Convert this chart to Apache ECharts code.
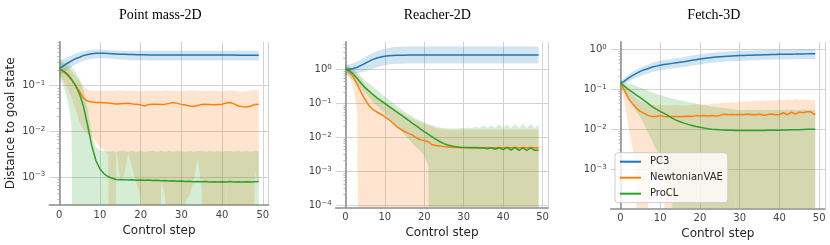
<!DOCTYPE html>
<html><head><meta charset="utf-8">
<script src="https://cdn.jsdelivr.net/npm/echarts@6/dist/echarts.min.js"></script>
<style>html,body{margin:0;padding:0;background:#fff}#c{width:830px;height:245px}</style>
</head><body><div id="c"></div>
<script>
// ---------- data ----------
const steps = [0,1,2,3,4,5,6,7,8,9,10,11,12,13,14,15,16,17,18,19,20,21,22,23,24,25,26,27,28,29,30,31,32,33,34,35,36,37,38,39,40,41,42,43,44,45,46,47,48,49];
const seriesNames = ['PC3','NewtonianVAE','ProCL'];
const panelTitles = ['Point mass-2D','Reacher-2D','Fetch-3D'];

// Point mass-2D
const pmPC3Mean = [0.24,0.27,0.31,0.35,0.39,0.42,0.46,0.48,0.50,0.51,0.51,0.51,0.505,0.50,0.495,0.49,0.485,0.48,0.48,0.475,0.475,0.475,0.47,0.47,0.47,0.47,0.47,0.47,0.47,0.47,0.47,0.47,0.468,0.468,0.468,0.468,0.468,0.468,0.468,0.468,0.467,0.467,0.467,0.467,0.466,0.466,0.466,0.466,0.465,0.465];
const pmPC3Upper = [0.36,0.38,0.42,0.46,0.5,0.54,0.57,0.6,0.61,0.62,0.62,0.61,0.6,0.595,0.59,0.585,0.58,0.58,0.58,0.58,0.58,0.58,0.58,0.58,0.58,0.58,0.58,0.58,0.58,0.58,0.58,0.58,0.58,0.58,0.58,0.58,0.58,0.58,0.58,0.58,0.58,0.58,0.58,0.58,0.58,0.58,0.58,0.58,0.58,0.58];
const pmPC3Lower = [0.16,0.19,0.22,0.26,0.29,0.32,0.35,0.37,0.39,0.40,0.40,0.40,0.395,0.39,0.38,0.375,0.37,0.365,0.36,0.36,0.36,0.36,0.355,0.355,0.355,0.355,0.355,0.355,0.355,0.355,0.355,0.355,0.355,0.355,0.355,0.355,0.355,0.355,0.355,0.355,0.355,0.355,0.355,0.355,0.355,0.355,0.355,0.355,0.355,0.355];
const pmNewtMean = [0.24,0.2,0.17,0.135,0.103,0.074,0.053,0.046,0.044,0.043,0.043,0.0425,0.042,0.041,0.040,0.0405,0.041,0.0415,0.040,0.0395,0.038,0.036,0.039,0.0395,0.0395,0.039,0.0395,0.041,0.043,0.041,0.039,0.038,0.036,0.035,0.037,0.039,0.0395,0.039,0.0385,0.039,0.0395,0.042,0.043,0.040,0.036,0.0345,0.034,0.0355,0.039,0.0395];
const pmNewtUpper = [0.34,0.3,0.26,0.21,0.165,0.125,0.095,0.082,0.078,0.078,0.077,0.079,0.078,0.077,0.079,0.08,0.078,0.077,0.079,0.078,0.076,0.077,0.079,0.078,0.077,0.078,0.08,0.079,0.078,0.077,0.076,0.078,0.079,0.08,0.078,0.077,0.076,0.078,0.079,0.077,0.076,0.078,0.08,0.078,0.075,0.074,0.076,0.079,0.082,0.08];
const pmNewtLower = [0.17,0.13,0.09,0.055,0.03,0.016,0.011,0.009,0.0075,0.006,0.0045,0.0038,0.0032,0,0.0042,0.0008,0.0012,0.0033,0.0015,0.0007,0.0004,0,0,0,0,0.0009,0.0004,0,0,0,0,0.0003,0.0004,0.0008,0.0026,0.0005,0,0,0,0,0,0.0017,0,0,0,0,0,0,0.0015,0.0006];
const pmProMean = [0.24,0.21,0.18,0.14,0.1,0.065,0.034,0.013,0.0048,0.0023,0.0015,0.00118,0.00103,0.00094,0.00089,0.00087,0.00088,0.00086,0.00087,0.00085,0.00086,0.00085,0.00086,0.00084,0.00085,0.00083,0.00084,0.00082,0.00083,0.00081,0.00082,0.0008,0.00081,0.00079,0.0008,0.00079,0.0008,0.00078,0.00079,0.00078,0.00079,0.00078,0.0008,0.00078,0.00079,0.00078,0.00079,0.00078,0.00079,0.0008];
const pmProUpper = [0.35,0.33,0.3,0.26,0.2,0.14,0.08,0.03,0.008,0.0045,0.0038,0.0037,0.0036,0.0037,0.0036,0.0037,0.0037,0.0036,0.0037,0.0036,0.0037,0.0036,0.0037,0.0037,0.0036,0.0037,0.0036,0.0037,0.0036,0.0037,0.0037,0.0036,0.0037,0.0036,0.0037,0.0037,0.0036,0.0037,0.0036,0.0037,0.0036,0.0037,0.0037,0.0036,0.0037,0.0036,0.0037,0.0036,0.0037,0.0037];
const pmProLower = [0.16,0.1,0.05,0.015,0,0,0,0,0,0,0,0,0,0,0,0,0,0,0,0,0,0,0,0,0,0,0,0,0,0,0,0,0,0,0,0,0,0,0,0,0,0,0,0,0,0,0,0,0,0];

// Reacher-2D
const rcPC3Mean = [1.0,1.0,1.05,1.15,1.3,1.5,1.7,1.95,2.15,2.3,2.42,2.5,2.55,2.58,2.6,2.6,2.61,2.61,2.61,2.61,2.61,2.61,2.61,2.61,2.61,2.61,2.61,2.61,2.61,2.61,2.62,2.62,2.62,2.62,2.62,2.62,2.62,2.62,2.62,2.62,2.62,2.62,2.62,2.62,2.62,2.62,2.62,2.62,2.62,2.62];
const rcPC3Upper = [1.35,1.4,1.5,1.7,1.95,2.3,2.65,3.0,3.4,3.7,4.0,4.2,4.4,4.5,4.6,4.65,4.7,4.7,4.7,4.7,4.7,4.7,4.7,4.7,4.7,4.7,4.7,4.7,4.7,4.7,4.7,4.7,4.7,4.7,4.7,4.7,4.7,4.7,4.7,4.7,4.7,4.7,4.7,4.7,4.7,4.7,4.7,4.7,4.7,4.7];
const rcPC3Lower = [0.72,0.72,0.74,0.78,0.82,0.88,0.95,1.05,1.15,1.25,1.32,1.38,1.42,1.45,1.46,1.47,1.47,1.47,1.47,1.47,1.47,1.47,1.47,1.47,1.47,1.47,1.47,1.47,1.47,1.47,1.47,1.47,1.47,1.47,1.47,1.47,1.47,1.47,1.47,1.47,1.47,1.47,1.47,1.47,1.47,1.47,1.47,1.47,1.47,1.47];
const rcNewtMean = [1.0,0.85,0.6,0.36,0.21,0.13,0.085,0.066,0.056,0.048,0.041,0.034,0.027,0.021,0.0175,0.015,0.0132,0.0117,0.0098,0.0086,0.0081,0.0075,0.0061,0.0058,0.0056,0.0054,0.0053,0.0052,0.0051,0.0051,0.0050,0.0050,0.0051,0.0050,0.0051,0.0050,0.0051,0.0050,0.0050,0.0051,0.0050,0.0051,0.0050,0.0051,0.0050,0.0051,0.0050,0.0051,0.0050,0.0050];
const rcNewtUpper = [1.3,1.15,0.95,0.7,0.5,0.35,0.25,0.2,0.16,0.13,0.11,0.095,0.08,0.066,0.055,0.047,0.04,0.035,0.031,0.028,0.025,0.023,0.021,0.019,0.018,0.017,0.017,0.017,0.017,0.017,0.017,0.017,0.017,0.017,0.017,0.017,0.017,0.017,0.017,0.017,0.017,0.017,0.017,0.017,0.017,0.017,0.017,0.017,0.017,0.017];
const rcNewtLower = [0.75,0.6,0.3,0.06,0,0,0,0,0,0,0,0,0,0,0,0,0,0,0,0,0,0,0,0,0,0,0,0,0,0,0,0,0,0,0,0,0,0,0,0,0,0,0,0,0,0,0,0,0,0];
const rcProMean = [1.0,0.91,0.73,0.54,0.39,0.29,0.23,0.18,0.145,0.12,0.1,0.082,0.068,0.056,0.047,0.039,0.032,0.026,0.022,0.018,0.0148,0.0125,0.0105,0.0088,0.0075,0.0066,0.006,0.0056,0.0054,0.0052,0.0051,0.0051,0.005,0.0051,0.0049,0.005,0.0047,0.005,0.0045,0.005,0.0044,0.0051,0.0043,0.0051,0.0042,0.005,0.0042,0.005,0.0042,0.0043];
const rcProUpper = [1.35,1.2,1.0,0.8,0.62,0.48,0.38,0.31,0.25,0.2,0.16,0.13,0.105,0.085,0.07,0.058,0.049,0.041,0.035,0.031,0.028,0.025,0.023,0.021,0.0195,0.019,0.0185,0.0185,0.0185,0.019,0.019,0.0195,0.019,0.0205,0.019,0.022,0.019,0.023,0.019,0.024,0.019,0.024,0.019,0.025,0.019,0.025,0.019,0.025,0.019,0.024];
const rcProLower = [0.72,0.6,0.47,0.36,0.27,0.2,0.15,0.11,0.085,0.065,0.05,0.038,0.029,0.022,0.016,0.012,0.009,0.0068,0.005,0.004,0.003,0.0015,0,0,0,0,0,0,0,0,0,0,0,0,0,0,0,0,0,0,0,0,0,0,0,0,0,0,0,0];

// Fetch-3D
const fePC3Mean = [0.14,0.16,0.19,0.22,0.25,0.28,0.31,0.33,0.36,0.38,0.40,0.415,0.43,0.445,0.46,0.475,0.49,0.51,0.53,0.55,0.57,0.59,0.61,0.625,0.64,0.655,0.665,0.675,0.685,0.695,0.70,0.705,0.71,0.715,0.72,0.725,0.73,0.735,0.74,0.745,0.75,0.752,0.755,0.758,0.76,0.765,0.768,0.77,0.775,0.78];
const fePC3Upper = [0.16,0.19,0.23,0.27,0.31,0.35,0.39,0.42,0.46,0.49,0.52,0.54,0.56,0.58,0.6,0.62,0.64,0.67,0.7,0.72,0.75,0.77,0.8,0.82,0.84,0.86,0.87,0.88,0.9,0.91,0.92,0.925,0.93,0.94,0.945,0.95,0.955,0.96,0.965,0.97,0.975,0.98,0.985,0.99,0.99,0.995,1.0,1.0,1.0,1.0];
const fePC3Lower = [0.12,0.135,0.155,0.175,0.195,0.215,0.235,0.25,0.27,0.285,0.3,0.31,0.32,0.33,0.34,0.35,0.36,0.375,0.39,0.405,0.42,0.435,0.45,0.46,0.47,0.48,0.49,0.5,0.505,0.51,0.515,0.52,0.525,0.53,0.535,0.54,0.545,0.55,0.55,0.555,0.56,0.56,0.56,0.565,0.565,0.565,0.57,0.57,0.57,0.57];
const feNewtMean = [0.14,0.095,0.06,0.044,0.034,0.028,0.025,0.022,0.021,0.021,0.022,0.021,0.0205,0.021,0.021,0.0205,0.021,0.0215,0.021,0.022,0.0215,0.022,0.0215,0.022,0.0215,0.022,0.024,0.023,0.0235,0.023,0.0235,0.023,0.024,0.023,0.023,0.024,0.0225,0.023,0.024,0.023,0.0235,0.026,0.023,0.027,0.024,0.027,0.026,0.028,0.027,0.023];
const feNewtUpper = [0.16,0.13,0.095,0.072,0.058,0.05,0.045,0.042,0.041,0.04,0.041,0.04,0.039,0.04,0.041,0.04,0.039,0.04,0.041,0.042,0.041,0.043,0.042,0.044,0.045,0.044,0.047,0.046,0.048,0.047,0.05,0.049,0.051,0.05,0.052,0.05,0.053,0.051,0.054,0.052,0.055,0.053,0.056,0.054,0.057,0.055,0.056,0.055,0.054,0.053];
const feNewtLower = [0.12,0.05,0.012,0.0035,0.001,0,0,0.0004,0.001,0.0005,0.0015,0.0004,0,0,0,0,0,0,0,0,0,0,0,0,0,0,0,0,0,0.0003,0,0,0,0,0,0,0,0,0,0,0,0,0,0,0,0,0,0,0,0];
const feProMean = [0.14,0.12,0.1,0.085,0.072,0.062,0.052,0.044,0.037,0.032,0.028,0.025,0.022,0.019,0.017,0.0155,0.0143,0.0133,0.0125,0.0118,0.0113,0.0108,0.0104,0.0101,0.0099,0.0097,0.0096,0.0095,0.0095,0.0094,0.0094,0.0094,0.0094,0.0094,0.0094,0.0094,0.0094,0.0095,0.0095,0.0095,0.0095,0.0096,0.0096,0.0097,0.0097,0.0098,0.0099,0.01,0.01,0.0101];
const feProUpper = [0.16,0.15,0.14,0.13,0.12,0.11,0.1,0.092,0.085,0.078,0.072,0.067,0.063,0.059,0.056,0.053,0.05,0.048,0.046,0.044,0.042,0.04,0.039,0.037,0.036,0.035,0.034,0.033,0.032,0.031,0.031,0.030,0.031,0.030,0.031,0.031,0.030,0.031,0.030,0.031,0.031,0.030,0.031,0.031,0.030,0.031,0.031,0.030,0.031,0.031];
const feProLower = [0.11,0.08,0.055,0.04,0.028,0.02,0.013,0.008,0.005,0.003,0.0018,0.001,0.0005,0.00025,0,0,0,0,0,0,0,0,0,0,0,0,0,0,0,0,0,0,0,0,0,0,0,0,0,0,0,0,0,0,0,0,0,0,0,0];

// ---------- layout / style ----------
const COLORS = ['#1f77b4','#ff7f0e','#2ca02c'];
const BAND_FILL = ['rgba(31,119,180,0.2)','rgba(255,127,14,0.2)','rgba(44,160,44,0.2)'];
const SANS = '"DejaVu Sans", sans-serif';
const GRID_COLOR = '#d2d2d2';
const panels = [
  {grid:{left:49.3, top:41.7, width:219.4, height:163.3}, ymin:2.45e-4, ymax:0.918, titleX:160.3, nameGap:17,
   data:[[pmPC3Mean,pmPC3Lower,pmPC3Upper],[pmNewtMean,pmNewtLower,pmNewtUpper],[pmProMean,pmProLower,pmProUpper]]},
  {grid:{left:335.7, top:41.7, width:212.6, height:165.6}, ymin:8.97e-5, ymax:6.45, titleX:437.3, nameGap:18,
   data:[[rcPC3Mean,rcPC3Lower,rcPC3Upper],[rcNewtMean,rcNewtLower,rcNewtUpper],[rcProMean,rcProLower,rcProUpper]]},
  {grid:{left:610.7, top:41.7, width:214.3, height:166.6}, ymin:1.06e-4, ymax:1.55, titleX:713.8, nameGap:18,
   data:[[fePC3Mean,fePC3Lower,fePC3Upper],[feNewtMean,feNewtLower,feNewtUpper],[feProMean,feProLower,feProUpper]]}
];

function logLabel(v) {
  const l = Math.log10(v), e = Math.round(l);
  if (Math.abs(l - e) > 0.02) return '';
  return '{b|10}{s|' + (e < 0 ? '\u2212' : '') + Math.abs(e) + '}';
}

// band polygon: upper edge forward, lower edge backward; a lower bound of 0
// sits far below the log axis and is clipped to the plot area
function bandRenderer(lower, upper, fill, floorVal) {
  return function (params, api) {
    if (params.dataIndex !== 0) return null;
    const pts = [];
    for (let j = 0; j < steps.length; j++) pts.push(api.coord([steps[j], upper[j]]));
    for (let j = steps.length - 1; j >= 0; j--) pts.push(api.coord([steps[j], lower[j] > 0 ? lower[j] : floorVal]));
    const cs = params.coordSys;
    return {
      type:'polygon', shape:{points:pts}, style:{fill:fill, stroke:null},
      clipPath:{type:'rect', shape:{x:cs.x, y:cs.y, width:cs.width, height:cs.height}}
    };
  };
}

const grids = [], xAxes = [], yAxes = [], series = [];
panels.forEach((p, i) => {
  grids.push(Object.assign({containLabel:false, outerBoundsMode:'none'}, p.grid));
  xAxes.push({
    type:'value', gridIndex:i, min:-2.45, max:51.45,
    axisLine:{show:true, onZero:false, lineStyle:{color:'#8c8c8c', width:1.5}},
    axisTick:{show:false},
    axisLabel:{fontSize:10, color:'#444', margin:5, fontFamily:SANS, showMinLabel:false, showMaxLabel:false},
    splitLine:{show:true, showMinLine:false, showMaxLine:true, lineStyle:{color:GRID_COLOR, width:1}},
    name:'Control step', nameLocation:'middle', nameGap:p.nameGap,
    nameTextStyle:{fontSize:12, color:'#262626', fontFamily:SANS}
  });
  const ya = {
    type:'log', logBase:10, gridIndex:i, min:p.ymin, max:p.ymax,
    axisLine:{show:true, lineStyle:{color:'#8c8c8c', width:1.5}},
    axisTick:{show:false},
    minorTick:{show:true, length:2, splitNumber:8, lineStyle:{color:'#b0b0b0', width:0.8}},
    axisLabel:{formatter:logLabel, margin:4, showMinLabel:false, showMaxLabel:false,
      rich:{b:{fontSize:10, color:'#444', fontFamily:SANS, lineHeight:12},
            s:{fontSize:7, color:'#444', fontFamily:SANS, lineHeight:8, verticalAlign:'top'}}},
    splitLine:{show:true, showMinLine:false, showMaxLine:false, lineStyle:{color:GRID_COLOR, width:1}}
  };
  if (i === 0) {
    ya.name = 'Distance to goal state';
    ya.nameLocation = 'middle';
    ya.nameGap = 32;
    ya.nameTextStyle = {fontSize:12, color:'#262626', fontFamily:SANS};
  }
  yAxes.push(ya);

  const floorVal = p.ymin * 1e-12;
  p.data.forEach((d, k) => {
    const [mean, lower, upper] = d;
    series.push({type:'custom', name:seriesNames[k] + ' band', xAxisIndex:i, yAxisIndex:i, silent:true, clip:true,
      data:steps.map((t, j) => [t, lower[j] > 0 ? lower[j] : floorVal, upper[j]]),
      encode:{x:0, y:[1, 2]},
      renderItem:bandRenderer(lower, upper, BAND_FILL[k], floorVal)});
    series.push({type:'line', name:seriesNames[k], xAxisIndex:i, yAxisIndex:i,
      data:steps.map((t, j) => [t, mean[j]]), symbol:'none', showSymbol:false, clip:true,
      lineStyle:{color:COLORS[k], width:1.5}, itemStyle:{color:COLORS[k]}});
  });
});

const chart = echarts.init(document.getElementById('c'), null, {renderer:'canvas'});
chart.setOption({
  animation:false,
  backgroundColor:'#fff',
  grid:grids, xAxis:xAxes, yAxis:yAxes, series:series,
  legend:{
    data:seriesNames, orient:'vertical', left:615, top:152.7, icon:'rect',
    itemWidth:21, itemHeight:2, itemGap:4, padding:[3,5,3,5],
    backgroundColor:'rgba(255,255,255,0.8)', borderColor:'#cccccc', borderWidth:1, borderRadius:3,
    selectedMode:false,
    textStyle:{fontSize:10, color:'#262626', fontFamily:SANS, lineHeight:12, padding:[0,0,0,4]}
  },
  graphic: panels.map((p, i) => ({
    type:'text', x:p.titleX, y:15,
    style:{text:panelTitles[i], font:'14px "Liberation Serif", "DejaVu Serif", serif', fill:'#000',
      align:'center', verticalAlign:'middle', textAlign:'center', textVerticalAlign:'middle'}
  }))
});
</script>
</body></html>
